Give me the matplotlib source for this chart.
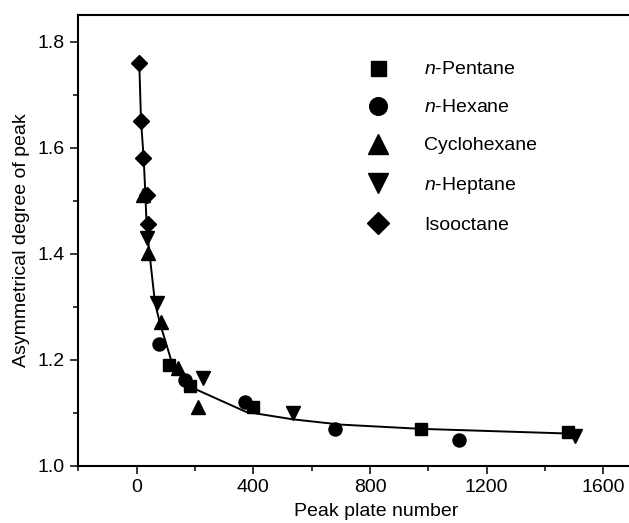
import matplotlib
matplotlib.use("Agg")
import matplotlib.pyplot as plt

plt.rcParams['font.family'] = ['Liberation Sans', 'DejaVu Sans']
plt.rcParams['mathtext.fontset'] = 'custom'
plt.rcParams['mathtext.rm'] = 'Liberation Sans'
plt.rcParams['mathtext.it'] = 'Liberation Sans:italic'

# ---- data ----
pentane_x = [110, 183, 398, 975, 1478]
pentane_y = [1.191, 1.150, 1.112, 1.070, 1.064]

hexane_x = [78, 167, 373, 680, 1104]
hexane_y = [1.230, 1.162, 1.121, 1.069, 1.049]

cyclohexane_x = [21, 38, 84, 141, 209]
cyclohexane_y = [1.511, 1.401, 1.272, 1.184, 1.112]

heptane_x = [34, 70, 227, 535, 1501]
heptane_y = [1.430, 1.307, 1.165, 1.099, 1.057]

isooctane_x = [9, 15, 23, 34, 38]
isooctane_y = [1.760, 1.650, 1.581, 1.510, 1.456]

curve_x = [9, 15, 24, 30, 34, 44, 63, 80, 118, 169, 209, 375, 535, 700, 975, 1490]
curve_y = [1.760, 1.650, 1.581, 1.511, 1.455, 1.401, 1.307, 1.269, 1.200, 1.156,
           1.143, 1.102, 1.088, 1.078, 1.070, 1.061]

labels = ['$n$-Pentane', '$n$-Hexane', 'Cyclohexane', '$n$-Heptane', 'Isooctane']
xticks = [0, 400, 800, 1200, 1600]
yticks = [1.0, 1.2, 1.4, 1.6, 1.8]

W, H = 629, 523
fig = plt.figure(figsize=(W / 100, H / 100), dpi=100)
# axes: left spine at x=78.3px, bottom at y=466px, top at y=15px
left = 78.3 / W
bottom = (H - 466) / H
height = (466 - 15) / H
px_per_unit = 116.7 / 400
width = (1900 * px_per_unit) / W
ax = fig.add_axes([left, bottom, width, height])

ax.plot(curve_x, curve_y, color='black', lw=1.4, zorder=2)

series = [
    (pentane_x, pentane_y, 's', 8.0),
    (hexane_x, hexane_y, 'o', 9.4),
    (cyclohexane_x, cyclohexane_y, '^', 10.5),
    (heptane_x, heptane_y, 'v', 10.5),
    (isooctane_x, isooctane_y, 'D', 8.4),
]
for (xs, ys, mk, size), lab in zip(series, labels):
    ax.plot(xs, ys, linestyle='none', marker=mk, markersize=size,
            color='black', markeredgecolor='black', label=lab, zorder=3)

ax.set_xlim(-200, 1700)
ax.set_ylim(1.0, 1.85)
ax.set_xticks(xticks)
ax.set_yticks(yticks)
ax.set_yticklabels([f'{v:.1f}' for v in yticks])
ax.set_xticks([-200, 200, 600, 1000, 1400], minor=True)
ax.set_yticks([1.1, 1.3, 1.5, 1.7], minor=True)
ax.tick_params(which='major', direction='out', length=5.5, width=1.1,
               labelsize=14, pad=4)
ax.tick_params(which='minor', direction='out', length=3.5, width=1.1)

for s in ['left', 'bottom', 'top']:
    ax.spines[s].set_linewidth(1.5)
ax.spines['right'].set_visible(False)

ax.set_xlabel('Peak plate number', fontsize=14)
ax.set_ylabel('Asymmetrical degree of peak', fontsize=14, labelpad=6)
ax.xaxis.set_label_coords((376 - 78.3) / (1900 * px_per_unit), -0.083)

leg = ax.legend(loc='upper left', bbox_to_anchor=(358.6 / W, 1 - 60.7 / H),
                bbox_transform=fig.transFigure, frameon=False, fontsize=14,
                borderpad=0, borderaxespad=0, handlelength=2.0,
                handletextpad=1.37, labelspacing=1.05, markerscale=1.35)

fig.savefig('out.png', dpi=100)
